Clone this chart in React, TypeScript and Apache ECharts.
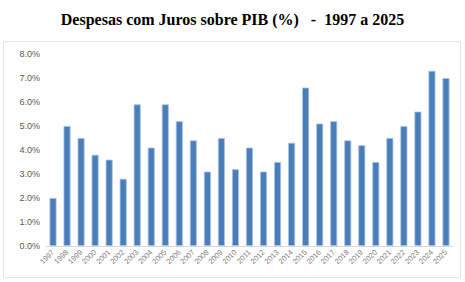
import React, { useEffect, useRef } from "react";
import * as echarts from "echarts";

const years = ["1997","1998","1999","2000","2001","2002","2003","2004","2005","2006","2007","2008","2009","2010","2011","2012","2013","2014","2015","2016","2017","2018","2019","2020","2021","2022","2023","2024","2025"];
const values = [2.0,5.0,4.5,3.8,3.6,2.8,5.9,4.1,5.9,5.2,4.4,3.1,4.5,3.2,4.1,3.1,3.5,4.3,6.6,5.1,5.2,4.4,4.2,3.5,4.5,5.0,5.6,7.3,7.0];
const title = "Despesas com Juros sobre PIB (%)   -  1997 a 2025";

export default function App() {
  const ref = useRef<HTMLDivElement>(null);
  useEffect(() => {
    document.body.style.margin = "0";
    const chart = echarts.init(ref.current!, null, { renderer: "svg" });
    chart.setOption({
      animation: false,
      backgroundColor: "#ffffff",
      title: {
        text: title,
        left: "center",
        top: 6,
        textStyle: { fontFamily: "Liberation Serif", fontWeight: "bold", fontSize: 16, color: "#000" },
      },
      graphic: [
        {
          type: "rect",
          shape: { x: 3.5, y: 41.5, width: 457, height: 236 },
          style: { fill: "none", stroke: "#e6e6e6", lineWidth: 1 },
          silent: true,
        },
      ],
      grid: { left: 46, right: 12, top: 54, bottom: 36, containLabel: false },
      xAxis: {
        type: "category",
        data: years,
        axisLine: { show: true, lineStyle: { color: "#d9d9d9" } },
        axisTick: { show: false },
        axisLabel: { rotate: 45, fontSize: 7.5, color: "#7f7f7f", margin: 5, fontFamily: "Liberation Sans", interval: 0 },
      },
      yAxis: {
        type: "value",
        min: 0,
        max: 8,
        interval: 1,
        splitLine: { show: false },
        axisLine: { show: false },
        axisTick: { show: false },
        axisLabel: { formatter: (v: number) => v.toFixed(1) + "%", fontSize: 9, color: "#595959", margin: 6, fontFamily: "Liberation Sans" },
      },
      series: [
        {
          type: "bar",
          data: values,
          barWidth: 7,
          itemStyle: { color: "#4a7ebb", borderColor: "#a9c4e6", borderWidth: 0.8 },
        },
      ],
    });
    return () => chart.dispose();
  }, []);
  return <div ref={ref} style={{ width: 465, height: 282 }} />;
}
